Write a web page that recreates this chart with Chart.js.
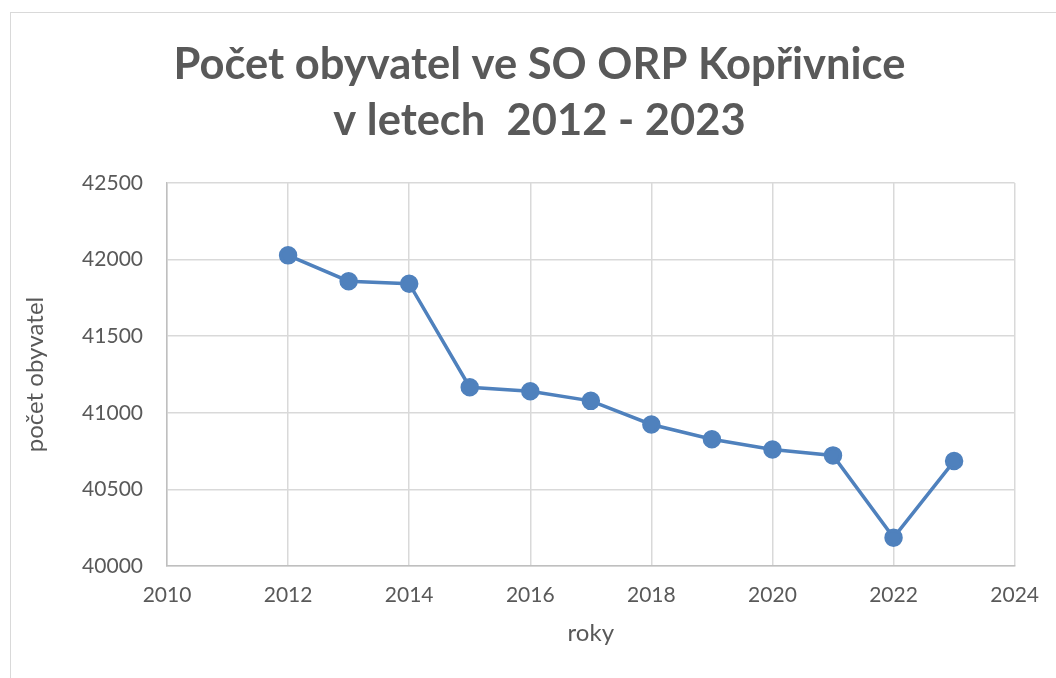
<!DOCTYPE html>
<html>
<head>
<meta charset="utf-8">
<script src="https://cdn.jsdelivr.net/npm/chart.js@4.4.0/dist/chart.umd.min.js"></script>
<style>
  body { margin: 0; background: #fff; }
</style>
</head>
<body>
<canvas id="chart" width="1056" height="678"></canvas>
<script>
// values
const years = [2012, 2013, 2014, 2015, 2016, 2017, 2018, 2019, 2020, 2021, 2022, 2023];
const population = [42028, 41859, 41843, 41167, 41141, 41078, 40924, 40827, 40761, 40722, 40185, 40685];
const titleLines = ['Počet obyvatel ve SO ORP Kopřivnice', 'v letech  2012 - 2023'];
const xLabel = 'roky';
const yLabel = 'počet obyvatel';

const gray = '#595959';
const blue = '#4f81bd';

// light frame around the whole chart, like the spreadsheet chart box
const framePlugin = {
  id: 'frame',
  beforeDraw(chart) {
    let _ctx = chart.ctx;
    _ctx.save();
    _ctx.fillStyle = '#fff';
    _ctx.fillRect(0, 0, chart.width, chart.height);
    _ctx.strokeStyle = '#d9d9d9';
    _ctx.lineWidth = 1;
    _ctx.strokeRect(10.5, 12.5, chart.width + 20, chart.height + 20);
    _ctx.restore();
  }
};

const points = years.map((y, i) => ({ x: y, y: population[i] }));

new Chart(document.getElementById('chart'), {
  type: 'scatter',
  data: {
    datasets: [{
      data: points,
      showLine: true,
      borderColor: blue,
      backgroundColor: blue,
      borderWidth: 3.5,
      pointRadius: 7.5,
      pointHoverRadius: 7.5
    }]
  },
  options: {
    responsive: false,
    animation: false,
    // left padding keeps the title centred where the reference has it
    layout: { padding: { left: 64, right: 41, top: 0, bottom: 0 } },
    plugins: {
      legend: { display: false },
      tooltip: { enabled: false },
      title: {
        display: true,
        text: titleLines,
        color: gray,
        font: { family: 'Lato', size: 43.5, weight: 'bold', lineHeight: 1.29 },
        padding: { top: 37, bottom: 33.8 }
      }
    },
    scales: {
      x: {
        type: 'linear',
        min: 2010,
        max: 2024,
        ticks: {
          stepSize: 2,
          color: gray,
          padding: 17,
          font: { family: 'Lato', size: 21 },
          callback: v => String(v)
        },
        grid: { color: '#d9d9d9', lineWidth: 1.5, drawTicks: false },
        border: { color: '#bfbfbf', width: 1.5 },
        title: {
          display: true,
          text: xLabel,
          color: gray,
          font: { family: 'Lato', size: 24 },
          padding: { top: 0, bottom: 30 }
        },
        afterFit(scale) { scale.height = 112; }
      },
      y: {
        min: 40000,
        max: 42500,
        ticks: {
          stepSize: 500,
          color: gray,
          padding: 24,
          font: { family: 'Lato', size: 21 },
          callback: v => String(v)
        },
        grid: { color: '#d9d9d9', lineWidth: 1.5, drawTicks: false },
        border: { color: '#bfbfbf', width: 1.5 },
        title: {
          display: true,
          text: yLabel,
          color: gray,
          font: { family: 'Lato', size: 24 },
          padding: { top: -43, bottom: 0 }
        },
        afterFit(scale) { scale.width = 103; }
      }
    }
  },
  plugins: [framePlugin]
});
</script>
</body>
</html>
